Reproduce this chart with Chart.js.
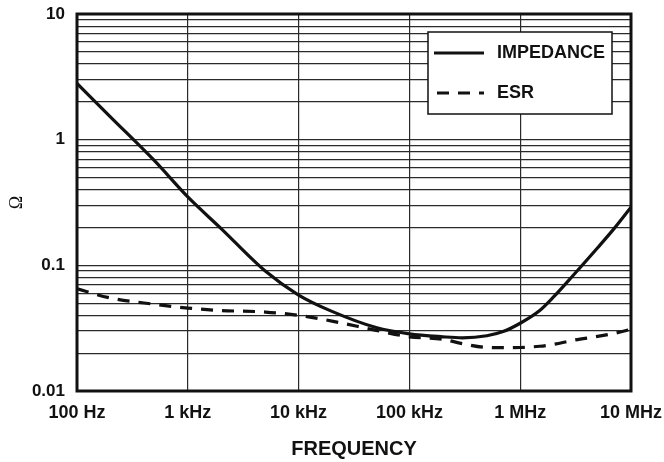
<!DOCTYPE html>
<html>
<head>
<meta charset="utf-8">
<script src="https://cdn.jsdelivr.net/npm/chart.js@4"></script>
<style>
   html, body { margin: 0; padding: 0; background: #fff; }
   #wrap { width: 664px; height: 462px; }
</style>
</head>
<body>
<div id="wrap"><canvas id="chart"></canvas></div>
<script>
// frequencies in Hz
const FREQ = [100, 200, 500, 1e3, 2e3, 5e3, 1e4, 2e4, 5e4, 1e5, 2e5, 3e5, 5e5, 7e5, 1e6, 1.5e6, 2e6, 3e6, 5e6, 7e6, 1e7];
// ohms
const IMPEDANCE = [2.8, 1.52, 0.68, 0.35, 0.196, 0.09, 0.058, 0.043, 0.032, 0.0285, 0.027, 0.0265, 0.0275, 0.0297, 0.0346, 0.0437, 0.056, 0.083, 0.138, 0.195, 0.29];
const ESR = [0.065, 0.055, 0.049, 0.0457, 0.0437, 0.0425, 0.040, 0.036, 0.0304, 0.027, 0.0258, 0.0238, 0.0222, 0.0221, 0.0222, 0.0227, 0.0235, 0.0253, 0.0272, 0.0287, 0.031];

const X_TICKS = [100, 1e3, 1e4, 1e5, 1e6, 1e7];
const X_LABELS = ["100 Hz", "1 kHz", "10 kHz", "100 kHz", "1 MHz", "10 MHz"];
const Y_DECADES = [0.01, 0.1, 1, 10];
const Y_LABELS = ["0.01", "0.1", "1", "10"];

const INK = "#111";
const GRID = "#2a2a2a";
const SANS = "'Liberation Sans', Arial, sans-serif";

const isDecade = (v) => Math.abs(Math.log10(v) - Math.round(Math.log10(v))) < 1e-9;

const yTickValues = [];
Y_DECADES.forEach((d, i) => {
   if (i === Y_DECADES.length - 1) {
      yTickValues.push(d);
      return;
   }
   for (let m = 1; m <= 9; m++) yTickValues.push(+(m * d).toPrecision(6));
});

const frameAndLegend = {
   id: "frameAndLegend",
   afterDraw(chart) {
      const { ctx, chartArea: a } = chart;
      ctx.save();
      ctx.strokeStyle = INK;
      ctx.lineWidth = 3;
      ctx.strokeRect(a.left, a.top, a.right - a.left, a.bottom - a.top);

      // legend box
      const bx = 428, by = 32, bw = 184, bh = 82;
      ctx.fillStyle = "#fff";
      ctx.fillRect(bx, by, bw, bh);
      ctx.lineWidth = 1.5;
      ctx.strokeRect(bx, by, bw, bh);

      ctx.font = `bold 18px ${SANS}`;
      ctx.textBaseline = "middle";
      ctx.fillStyle = INK;
      const rows = [53, 93];
      chart.data.datasets.forEach((ds, i) => {
         const y = rows[i];
         ctx.beginPath();
         ctx.lineWidth = ds.borderWidth;
         ctx.setLineDash(ds.borderDash || []);
         ctx.moveTo(i === 0 ? 434 : 437, y);
         ctx.lineTo(484, y);
         ctx.stroke();
         ctx.setLineDash([]);
         ctx.fillText(ds.label, 497, y);
      });
      ctx.restore();
   },
};

const ctx = document.getElementById("chart").getContext("2d");

new Chart(ctx, {
   type: "line",
   data: {
      datasets: [
         {
            label: "IMPEDANCE",
            data: FREQ.map((f, i) => ({ x: f, y: IMPEDANCE[i] })),
            borderColor: INK,
            borderWidth: 3.2,
            pointRadius: 0,
            cubicInterpolationMode: "monotone",
         },
         {
            label: "ESR",
            data: FREQ.map((f, i) => ({ x: f, y: ESR[i] })),
            borderColor: INK,
            borderWidth: 3.2,
            borderDash: [12, 9],
            pointRadius: 0,
            cubicInterpolationMode: "monotone",
         },
      ],
   },
   options: {
      responsive: true,
      maintainAspectRatio: false,
      animation: false,
      layout: {
         padding: { left: 0, right: 33, top: 14, bottom: 0 },
      },
      plugins: {
         legend: { display: false },
         tooltip: { enabled: false },
      },
      scales: {
         x: {
            type: "logarithmic",
            min: 100,
            max: 1e7,
            afterBuildTicks: (scale) => {
               scale.ticks = X_TICKS.map((v) => ({ value: v }));
            },
            afterFit: (scale) => {
               scale.height = 71;
               scale.paddingLeft = 0;
               scale.paddingRight = 0;
            },
            ticks: {
               autoSkip: false,
               maxRotation: 0,
               padding: 11,
               color: INK,
               font: { family: SANS, size: 18, weight: "bold" },
               callback: (v) => X_LABELS[X_TICKS.indexOf(v)] ?? "",
            },
            grid: {
               color: GRID,
               lineWidth: 1.2,
               drawTicks: false,
            },
            border: { display: false },
            title: {
               display: true,
               text: "FREQUENCY",
               color: INK,
               padding: { top: 0, bottom: 1 },
               font: { family: SANS, size: 20, weight: "bold" },
            },
         },
         y: {
            type: "logarithmic",
            min: 0.01,
            max: 10,
            afterBuildTicks: (scale) => {
               scale.ticks = yTickValues.map((v) => ({ value: v }));
            },
            afterFit: (scale) => {
               scale.width = 77;
               scale.paddingTop = 0;
               scale.paddingBottom = 0;
            },
            ticks: {
               autoSkip: false,
               padding: 12,
               color: INK,
               font: { family: SANS, size: 17, weight: "bold" },
               callback: (v) => {
                  if (!isDecade(v)) return "";
                  const i = Y_DECADES.findIndex((d) => Math.abs(d - v) < d * 1e-6);
                  return Y_LABELS[i];
               },
            },
            grid: {
               color: GRID,
               lineWidth: 1.2,
               drawTicks: false,
            },
            border: { display: false },
            title: {
               display: true,
               text: "Ω",
               color: INK,
               padding: { top: 6, bottom: 0 },
               font: { family: "'Liberation Serif', 'Times New Roman', serif", size: 18 },
            },
         },
      },
   },
   plugins: [frameAndLegend],
});
</script>
</body>
</html>
